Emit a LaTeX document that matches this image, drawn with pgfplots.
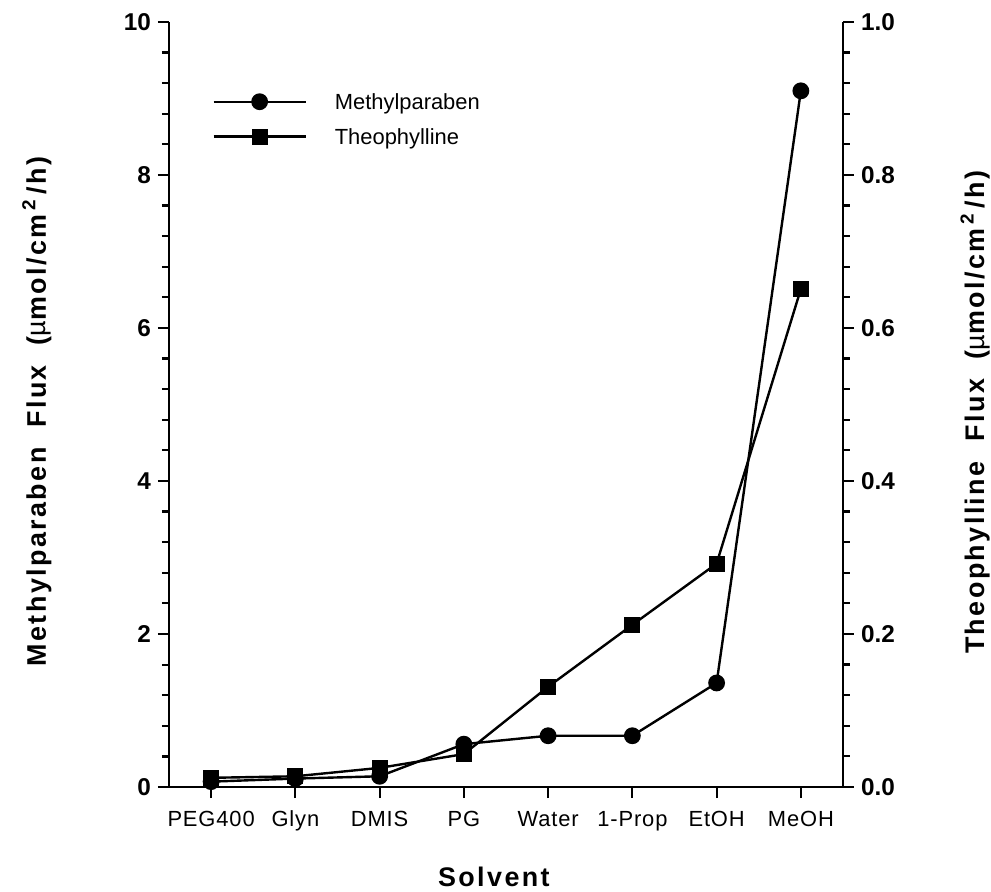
\documentclass[border=0pt]{standalone}
\usepackage{fontspec}
\setmainfont{Liberation Sans}
\newfontfamily\widesans[LetterSpace=9]{Liberation Sans}
\newfontfamily\catsans[LetterSpace=4]{Liberation Sans}
\usepackage{pgfplots}
\usepackage{pgfplotstable}
\pgfplotsset{compat=1.18}

% Flux for each solvent: methylparaben (left axis), theophylline (right axis)
\pgfplotstableread{
x mp th
0 0.07 0.012
1 0.11 0.014
2 0.14 0.025
3 0.56 0.043
4 0.67 0.131
5 0.67 0.212
6 1.36 0.292
7 9.10 0.651
}\fluxdata

\begin{document}
\begin{tikzpicture}
\path[use as bounding box] (-84.5bp,-52.5bp) rectangle (411bp,393.5bp);
\pgfplotsset{
  every axis/.append style={
    scale only axis, width=337bp, height=382.5bp,
    at={(0,0)}, anchor=south west,
    xmin=-0.5, xmax=7.5, clip=false,
    axis line style={-, line width=1.1bp},
    tick align=outside,
    major tick length=5.5bp, minor tick length=3.5bp,
    every tick/.style={black, line width=1.1bp},
    /pgf/number format/assume math mode=true,
    yticklabel style={font=\bfseries\fontsize{12.2}{12}\selectfont},
    label style={font=\widesans\bfseries\fontsize{13.5}{14}\selectfont},
  },
}
\begin{axis}[
  axis y line*=left, axis x line*=bottom,
  ymin=0, ymax=10, ytick={0,2,4,6,8,10}, minor y tick num=4,
  xtick={0,...,7},
  xticklabels={PEG400,Glyn,DMIS,PG,Water,1-Prop,EtOH,MeOH},
  xticklabel style={font=\catsans\fontsize{11}{12}\selectfont, text height=8bp, text depth=2.5bp, yshift=-2.5bp},
  xlabel={Solvent},
  xlabel style={at={(axis description cs:0.482,0)}, anchor=center, yshift=-45bp},
  ylabel={Methylparaben\ \ Flux\ \ ({\mdseries µ}mol/cm\,\textsuperscript{2}\,/h)},
  ylabel style={at={(axis description cs:-0.196,0.491)}, anchor=center, rotate=0},
  legend image code/.code={
    \draw[mark repeat=2, mark phase=2, #1] plot coordinates {(0bp,0bp) (23bp,0bp) (46bp,0bp)};
    \path (58bp,0bp);
  },
  legend style={draw=none, fill=none, at={(axis description cs:0.055,0.873)}, anchor=west,
    font=\fontsize{11}{12}\selectfont, row sep=5.5bp,
    nodes={inner sep=2bp, text depth=0pt}},
  legend cell align=left,
]
\addplot[black, line width=1.2bp, mark=*, mark size=3.6bp, mark options={fill=black}]
  table[x=x, y=mp] {\fluxdata};
\addlegendentry{Methylparaben}
\addlegendimage{black, line width=1.2bp, mark=square*, mark size=3.4bp, mark options={fill=black}}
\addlegendentry{Theophylline}
\end{axis}
\begin{axis}[
  axis y line*=right, axis x line=none,
  ymin=0, ymax=1, ytick={0,0.2,0.4,0.6,0.8,1}, minor y tick num=4,
  yticklabel style={/pgf/number format/.cd, fixed, fixed zerofill, precision=1},
  ylabel={Theophylline\ \ Flux\ \ ({\mdseries µ}mol/cm\,\textsuperscript{2}\,/h)},
  ylabel style={at={(axis description cs:1.196,0.49)}, anchor=center, rotate=0},
]
\addplot[black, line width=1.2bp, mark=square*, mark size=3.4bp, mark options={fill=black}]
  table[x=x, y=th] {\fluxdata};
\end{axis}
\end{tikzpicture}
\end{document}
